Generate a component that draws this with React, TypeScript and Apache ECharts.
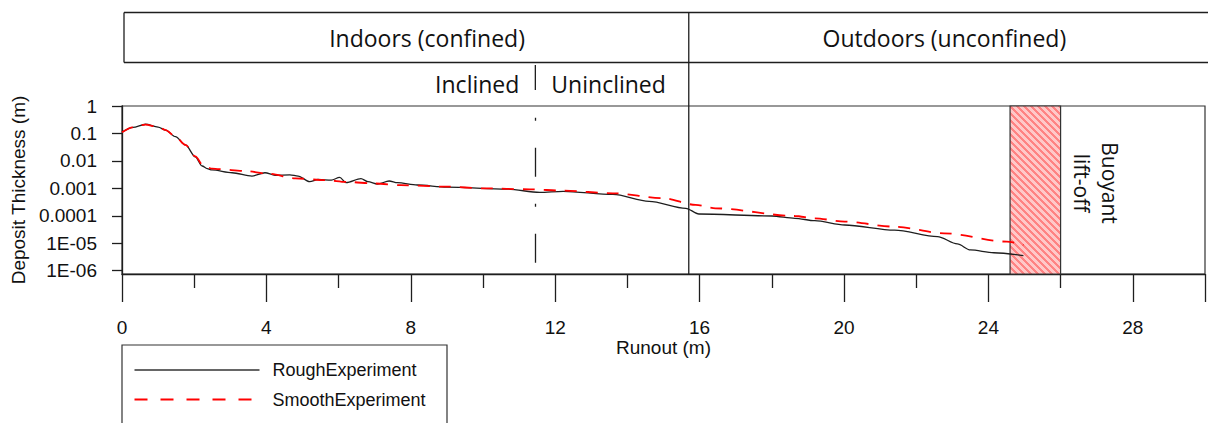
import React, { useEffect, useRef } from "react";
import * as echarts from "echarts";

// Deposit thickness along the flume, rough bed
const runoutRough = [0, 0.3, 0.65, 1.0, 1.21, 1.48, 1.76, 2.03, 2.22, 2.36, 2.49, 3.05, 3.6, 3.96, 4.24, 4.65, 4.88, 5.2, 5.43, 5.8, 6.03, 6.21, 6.62, 6.81, 7.08, 7.4, 7.63, 8.18, 9.0, 10.66, 11.57, 12.22, 13.6, 14.6, 15.62, 15.98, 18.0, 18.64, 19.19, 20.02, 21.4, 22.59, 23.14, 23.5, 24.15, 24.97];
const thicknessRough = [0.11, 0.167, 0.216, 0.17, 0.133, 0.076, 0.038, 0.014, 0.0065, 0.0052, 0.0047, 0.0037, 0.0028, 0.0037, 0.003, 0.0031, 0.0028, 0.00175, 0.0021, 0.002, 0.0025, 0.0016, 0.00225, 0.00175, 0.00144, 0.00185, 0.0016, 0.00132, 0.0011, 0.00094, 0.00071, 0.00078, 0.0006, 0.000335, 0.000187, 0.000116, 0.000098, 0.000081, 0.000066, 0.000046, 0.00003, 0.0000174, 0.0000094, 0.0000057, 0.0000045, 0.0000035];

// Deposit thickness along the flume, smooth bed
const runoutSmooth = [0, 0.3, 0.65, 1.0, 1.21, 1.48, 1.76, 2.03, 2.25, 2.5, 2.68, 3.38, 4.07, 4.8, 5.61, 6.26, 6.99, 7.72, 9.01, 10.0, 11.3, 12.22, 13.6, 14.97, 15.89, 16.44, 18.64, 19.19, 20.02, 21.4, 22.77, 24.51, 24.97];
const thicknessSmooth = [0.11, 0.167, 0.21, 0.172, 0.133, 0.076, 0.038, 0.0145, 0.0068, 0.0052, 0.005, 0.0043, 0.0034, 0.0023, 0.002, 0.0017, 0.0015, 0.0013, 0.00115, 0.001, 0.00092, 0.00082, 0.00066, 0.00044, 0.00025, 0.000187, 0.000098, 0.000081, 0.000061, 0.00004, 0.000023, 0.0000114, 0.0000086];

const seriesNames = ["RoughExperiment", "SmoothExperiment"];
const xTickValues = [0, 4, 8, 12, 16, 20, 24, 28];
const yTickValues = [1, 0.1, 0.01, 0.001, 0.0001, 0.00001, 0.000001];
const yTickLabels = ["1", "0.1", "0.01", "0.001", "0.0001", "1E-05", "1E-06"];

const X_MIN = 0;
const X_MAX = 30;
const Y_MIN = 7.55e-7;
const Y_MAX = 1;

const SLOPE_BREAK = 11.45; // inclined -> uninclined channel
const OUTDOOR_START = 15.7; // end of the confined section
const LIFTOFF_FROM = 24.6;
const LIFTOFF_TO = 26;
const BREAK_MARK_TOP = 0.37;
const BREAK_MARK_BOTTOM = 1.9e-6;

const INK = "#1e1e1e";
const RED = "#ff0000";
const SMOOTH_DASH = [12, 9];
const AXIS_FONT = "'Liberation Sans', Arial, sans-serif";
const HEAD_FONT = "'Open Sans', 'Noto Sans', sans-serif";

function hatchPattern(): HTMLCanvasElement {
  const n = 7;
  const c = document.createElement("canvas");
  c.width = n;
  c.height = n;
  const ctx = c.getContext("2d")!;
  ctx.fillStyle = "#ffc8c8";
  ctx.fillRect(0, 0, n, n);
  ctx.fillStyle = "#ff8383";
  for (let y = 0; y < n; y++) {
    for (let x = 0; x < n; x++) {
      const d = (((x - y) % n) + n) % n;
      if (d < 3) ctx.fillRect(x, y, 1, 1);
    }
  }
  return c;
}

function yLabel(v: number): string {
  for (let i = 0; i < yTickValues.length; i++) {
    if (Math.abs(Math.log10(v) - Math.log10(yTickValues[i])) < 1e-6) return yTickLabels[i];
  }
  return "";
}

export default function App() {
  const ref = useRef<HTMLDivElement>(null);

  useEffect(() => {
    document.body.style.margin = "0";
    const chart = echarts.init(ref.current!, undefined, { renderer: "svg" });
    const axisLine = { color: INK, width: 1.3 };

    chart.setOption({
      animation: false,
      backgroundColor: "#ffffff",
      grid: {
        left: 122,
        top: 106,
        width: 1090,
        height: 168,
        show: true,
        borderColor: "#333333",
        borderWidth: 1.2,
        containLabel: false,
      },
      xAxis: {
        type: "value",
        min: X_MIN,
        max: X_MAX,
        interval: 4,
        name: "Runout (m)",
        nameLocation: "middle",
        nameGap: 64,
        nameTextStyle: { fontSize: 19, fontFamily: AXIS_FONT, color: "#111" },
        axisLine: { show: true, onZero: false, lineStyle: axisLine },
        axisTick: { show: true, length: 28, lineStyle: axisLine },
        minorTick: { show: true, splitNumber: 2, length: 14, lineStyle: axisLine },
        axisLabel: {
          margin: 44,
          fontSize: 19,
          fontFamily: AXIS_FONT,
          color: "#111",
          formatter: (v: number) => (xTickValues.indexOf(v) >= 0 ? String(v) : ""),
        },
        splitLine: { show: false },
        minorSplitLine: { show: false },
      },
      yAxis: {
        type: "log",
        logBase: 10,
        min: Y_MIN,
        max: Y_MAX,
        name: "Deposit Thickness (m)",
        nameLocation: "middle",
        nameGap: 93,
        nameTextStyle: { fontSize: 19, fontFamily: AXIS_FONT, color: "#111" },
        axisLine: { show: true, onZero: false, lineStyle: axisLine },
        axisTick: { show: true, length: 10, lineStyle: axisLine, customValues: yTickValues },
        axisLabel: {
          margin: 25,
          fontSize: 19,
          fontFamily: AXIS_FONT,
          color: "#111",
          customValues: yTickValues,
          formatter: (v: number) => yLabel(v),
        },
        splitLine: { show: false },
      },
      series: [
        {
          name: seriesNames[0],
          type: "line",
          data: runoutRough.map((x, i) => [x, thicknessRough[i]]),
          symbol: "none",
          smooth: 0.3,
          smoothMonotone: "x",
          z: 4,
          lineStyle: { color: INK, width: 1.3 },
          itemStyle: { color: INK },
          markArea: {
            silent: true,
            itemStyle: {
              color: { image: hatchPattern(), repeat: "repeat" },
              borderColor: "#333333",
              borderWidth: 1.2,
            },
            data: [[{ xAxis: LIFTOFF_FROM, yAxis: Y_MAX }, { xAxis: LIFTOFF_TO, yAxis: Y_MIN }]],
          },
          markLine: {
            silent: true,
            symbol: "none",
            label: { show: false },
            lineStyle: { color: INK, width: 1.3, type: [3, 27, 29, 27] },
            data: [[{ coord: [SLOPE_BREAK, BREAK_MARK_TOP] }, { coord: [SLOPE_BREAK, BREAK_MARK_BOTTOM] }]],
          },
        },
        {
          name: seriesNames[1],
          type: "line",
          data: runoutSmooth.map((x, i) => [x, thicknessSmooth[i]]),
          symbol: "none",
          smooth: 0.3,
          smoothMonotone: "x",
          z: 5,
          lineStyle: { color: RED, width: 1.8, type: SMOOTH_DASH },
          itemStyle: { color: RED },
        },
      ],
    });

    // Region headers above the plot, placed from the runout scale
    const px = (v: number) => chart.convertToPixel({ xAxisIndex: 0 }, v) as number;
    const plotBottom = chart.convertToPixel({ yAxisIndex: 0 }, Y_MIN) as number;
    const xOut = px(OUTDOOR_START);
    const xBreak = px(SLOPE_BREAK);
    const headTop = 12.5;
    const headRow = 62.5;
    const headLeft = 124;
    const line = (x1: number, y1: number, x2: number, y2: number, style: any = {}) => ({
      type: "line",
      silent: true,
      shape: { x1, y1, x2, y2 },
      style: { stroke: INK, lineWidth: 1.3, ...style },
    });
    const text = (t: string, x: number, y: number, size: number, align: string, font = HEAD_FONT) => ({
      type: "text",
      silent: true,
      x,
      y,
      style: {
        text: t,
        fill: "#111",
        fontSize: size,
        fontFamily: font,
        align,
        verticalAlign: "middle",
      },
    });

    // Key box below the axis (its lower edge runs past the bottom of the page)
    const keyLeft = 122;
    const keyTop = 345;
    const keyRows = [370, 399.5];

    chart.setOption({
      graphic: [
        line(headLeft, headTop, 1208, headTop),
        line(headLeft, headRow, 1208, headRow),
        line(headLeft, headTop, headLeft, headRow),
        line(xOut, headTop, xOut, plotBottom),
        line(xBreak, 65, xBreak, 90),
        text("Indoors (confined)", px(8.45), 38, 23, "center"),
        text("Outdoors (unconfined)", (xOut + 1208) / 2 - 4, 38, 23, "center"),
        text("Inclined", xBreak - 16, 84, 23, "right"),
        text("Uninclined", xBreak + 16, 84, 23, "left"),
        {
          type: "text",
          silent: true,
          x: 1096,
          y: 183,
          rotation: -Math.PI / 2,
          style: {
            text: "Buoyant\nlift-off",
            fill: "#111",
            fontSize: 21,
            fontFamily: HEAD_FONT,
            align: "center",
            verticalAlign: "middle",
            lineHeight: 28,
          },
        },
        {
          type: "rect",
          silent: true,
          shape: { x: keyLeft, y: keyTop, width: 325, height: 100 },
          style: { fill: "none", stroke: "#333333", lineWidth: 1.2 },
        },
        line(keyLeft + 12.5, keyRows[0], keyLeft + 137.5, keyRows[0], { stroke: "#333333" }),
        line(keyLeft + 12.5, keyRows[1], keyLeft + 137.5, keyRows[1], {
          stroke: RED,
          lineWidth: 1.8,
          lineDash: [13, 13],
        }),
        text(seriesNames[0], keyLeft + 150.5, keyRows[0], 18, "left", AXIS_FONT),
        text(seriesNames[1], keyLeft + 150.5, keyRows[1], 18, "left", AXIS_FONT),
      ],
    });

    return () => chart.dispose();
  }, []);

  return <div ref={ref} style={{ width: 1208, height: 423 }} />;
}
